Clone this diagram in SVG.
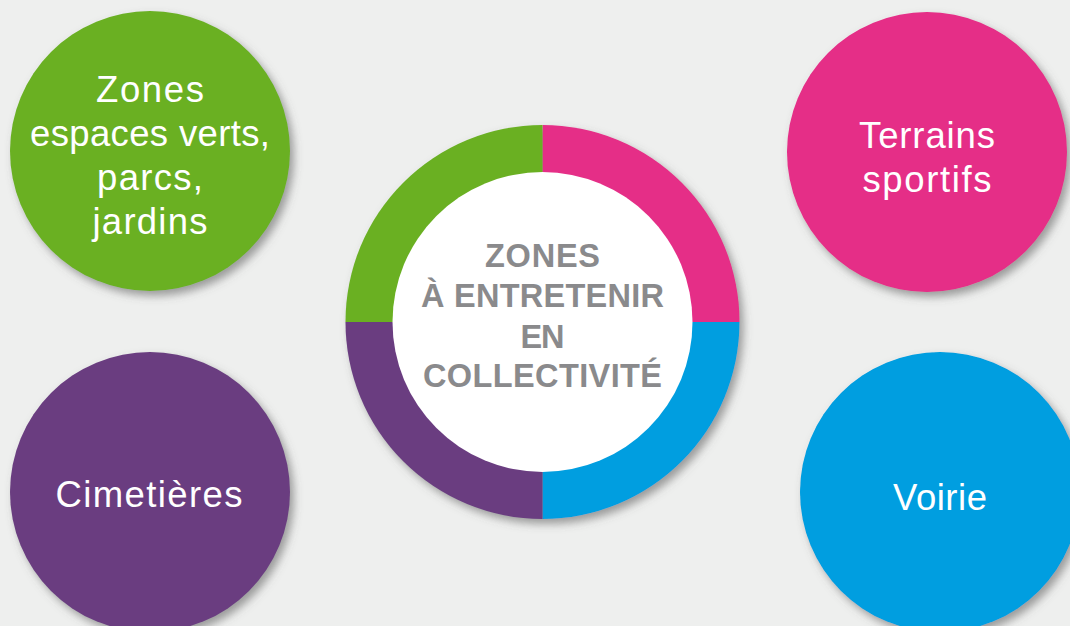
<svg xmlns="http://www.w3.org/2000/svg" width="1070" height="626" viewBox="0 0 1070 626">
<defs>
<filter id="sh" x="-20%" y="-20%" width="150%" height="150%">
<feDropShadow dx="4" dy="5" stdDeviation="4" flood-color="#555" flood-opacity="0.55"/>
</filter>
<style>
.lbl{font-family:"Liberation Sans",Arial,sans-serif;font-size:36.5px;fill:#ffffff;text-anchor:middle}
.ctr{font-family:"Liberation Sans",Arial,sans-serif;font-size:32.5px;font-weight:bold;fill:#8a8a8c;text-anchor:middle}
</style>
</defs>
<rect width="1070" height="626" fill="#eeefee"/>
<g id="node-espaces-verts">
<circle cx="150" cy="151" r="140" fill="#6ab023" filter="url(#sh)"/>
<text class="lbl" x="150" y="102" textLength="108" lengthAdjust="spacing">Zones</text>
<text class="lbl" x="150" y="146" textLength="240" lengthAdjust="spacing">espaces verts,</text>
<text class="lbl" x="150" y="190" textLength="106" lengthAdjust="spacing">parcs,</text>
<text class="lbl" x="150" y="234" textLength="115" lengthAdjust="spacing">jardins</text>
</g>
<g id="node-terrains">
<circle cx="927" cy="152" r="140" fill="#e52d87" filter="url(#sh)"/>
<text class="lbl" x="927" y="148" textLength="136" lengthAdjust="spacing">Terrains</text>
<text class="lbl" x="927" y="192" textLength="129" lengthAdjust="spacing">sportifs</text>
</g>
<g id="node-cimetieres">
<circle cx="150" cy="492" r="140" fill="#6a3e80" filter="url(#sh)"/>
<text class="lbl" x="149" y="507" textLength="187" lengthAdjust="spacing">Cimetières</text>
</g>
<g id="node-voirie">
<circle cx="940" cy="492" r="140" fill="#009ee0" filter="url(#sh)"/>
<text class="lbl" x="940" y="510" textLength="94" lengthAdjust="spacing">Voirie</text>
</g>
<g id="node-centre">
<g filter="url(#sh)">
<path d="M542.5 322 L542.5 125 A197 197 0 0 1 739.5 322 Z" fill="#e52d87"/>
<path d="M542.5 322 L739.5 322 A197 197 0 0 1 542.5 519 Z" fill="#009ee0"/>
<path d="M542.5 322 L542.5 519 A197 197 0 0 1 345.5 322 Z" fill="#6a3e80"/>
<path d="M542.5 322 L345.5 322 A197 197 0 0 1 542.5 125 Z" fill="#6ab023"/>
</g>
<circle cx="542.5" cy="322" r="150" fill="#ffffff"/>
<text class="ctr" x="542.5" y="267" textLength="115" lengthAdjust="spacing">ZONES</text>
<text class="ctr" x="542.5" y="307" textLength="243" lengthAdjust="spacing">À ENTRETENIR</text>
<text class="ctr" x="542.5" y="348" textLength="44" lengthAdjust="spacing">EN</text>
<text class="ctr" x="542.5" y="387" textLength="239" lengthAdjust="spacing">COLLECTIVITÉ</text>
</g>
<g id="connectors"></g>
</svg>
